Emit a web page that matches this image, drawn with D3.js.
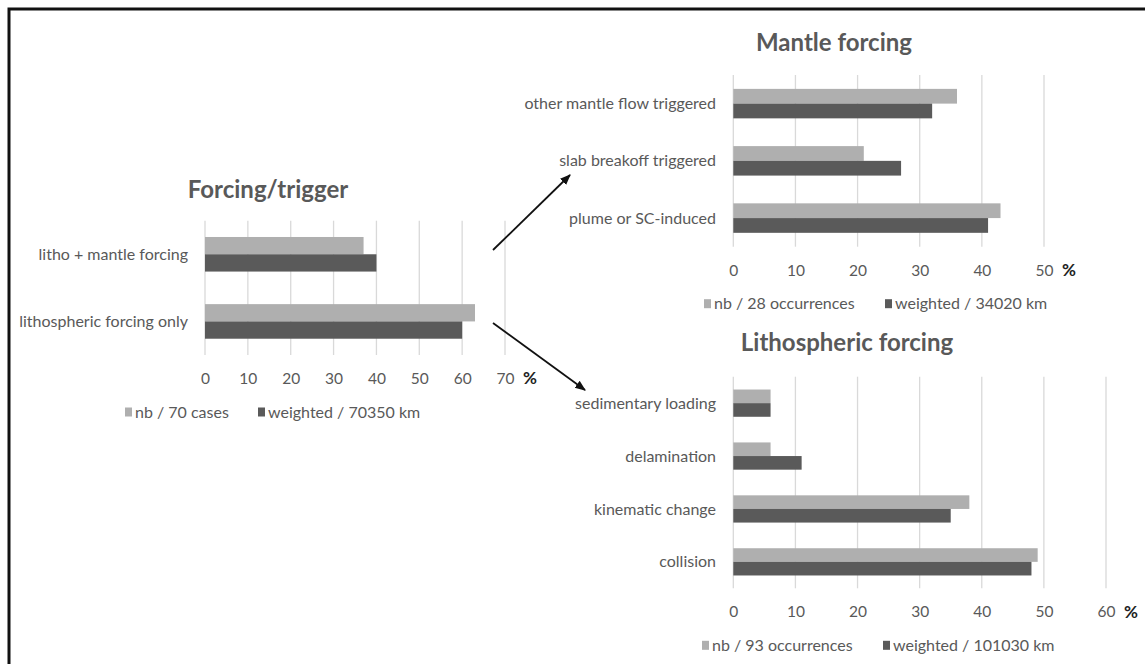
<!DOCTYPE html>
<html>
<head>
<meta charset="utf-8">
<script src="https://cdn.jsdelivr.net/npm/d3@7"></script>
<style>
  body { margin: 0; background: #fff; }
  svg text { font-family: Lato, "Open Sans", sans-serif; }
</style>
</head>
<body>
<div id="chart"></div>
<script>
// data (percent)
const forcingCats = ['litho + mantle forcing', 'lithospheric forcing only']
const forcingNb = [37, 63]
const forcingWeighted = [40, 60]
const forcingTicks = [0, 10, 20, 30, 40, 50, 60, 70]
const forcingLegend = ['nb / 70 cases', 'weighted / 70350 km']

const mantleCats = ['other mantle flow triggered', 'slab breakoff triggered', 'plume or SC-induced']
const mantleNb = [36, 21, 43]
const mantleWeighted = [32, 27, 41]
const mantleTicks = [0, 10, 20, 30, 40, 50]
const mantleLegend = ['nb / 28 occurrences', 'weighted / 34020 km']

const lithoCats = ['sedimentary loading', 'delamination', 'kinematic change', 'collision']
const lithoNb = [6, 6, 38, 49]
const lithoWeighted = [6, 11, 35, 48]
const lithoTicks = [0, 10, 20, 30, 40, 50, 60]
const lithoLegend = ['nb / 93 occurrences', 'weighted / 101030 km']

const series = ['nb', 'weighted']
const colors = { nb: '#afafaf', weighted: '#5a5a5a' }

const width = 1145, height = 664

const svg = d3.select('#chart')
    .append('svg')
    .attr('width', width)
    .attr('height', height)

svg.append('defs').append('marker')
    .attr('id', 'arrow')
    .attr('viewBox', '0 0 10 10')
    .attr('refX', 9).attr('refY', 5)
    .attr('markerWidth', 6).attr('markerHeight', 6)
    .attr('markerUnits', 'strokeWidth')
    .attr('orient', 'auto')
    .append('path')
    .attr('d', 'M0,1 L10,5 L0,9 z')
    .attr('fill', '#111')

// frame (only top and left edges are in the picture)
svg.append('path')
    .attr('d', `M9,${height} L9,9 L${width},9`)
    .attr('fill', 'none')
    .attr('stroke', '#111')
    .attr('stroke-width', 3)

function panel(opt){
    const g = svg.append('g')

    const x = d3.scaleLinear()
        .domain([0, d3.max(opt.ticks)])
        .range([opt.x0, opt.x1])

    const y = d3.scaleBand()
        .domain(opt.cats)
        .range([opt.top, opt.bottom])

    const inset = y.bandwidth() * (1 - 0.515) / 2
    const y1 = d3.scaleBand()
        .domain(series)
        .range([inset, y.bandwidth() - inset])

    const rows = opt.cats.map((c, i) => ({ cat: c, nb: opt.nb[i], weighted: opt.weighted[i] }))

    // gridlines
    g.append('g')
        .selectAll('line')
        .data(opt.ticks)
        .join('line')
        .attr('x1', d => x(d)).attr('x2', d => x(d))
        .attr('y1', opt.top).attr('y2', opt.bottom)
        .attr('stroke', '#d9d9d9')
        .attr('stroke-width', 1.3)

    // bars
    g.append('g')
        .selectAll('g')
        .data(rows)
        .join('g')
        .attr('transform', d => `translate(0,${y(d.cat)})`)
        .selectAll('rect')
        .data(d => series.map(s => ({ key: s, value: d[s] })))
        .join('rect')
        .attr('x', x(0))
        .attr('y', d => y1(d.key))
        .attr('width', d => x(d.value) - x(0))
        .attr('height', y1.bandwidth())
        .attr('fill', d => colors[d.key])

    // category labels
    g.append('g')
        .selectAll('text')
        .data(opt.cats)
        .join('text')
        .attr('x', opt.labelX)
        .attr('y', d => y(d) + y.bandwidth() / 2)
        .attr('dy', '0.35em')
        .attr('text-anchor', 'end')
        .attr('font-size', 16)
        .attr('fill', '#595959')
        .text(d => d)

    // value axis
    const axis = g.append('g')
        .attr('transform', `translate(0,${opt.bottom + 23.5})`)
        .call(d3.axisBottom(x).tickValues(opt.ticks).tickSize(0).tickPadding(0))
    axis.select('.domain').remove()
    axis.selectAll('text')
        .attr('dy', '0.35em')
        .attr('font-size', 15.5)
        .attr('font-family', 'Lato, sans-serif')
        .attr('fill', '#595959')

    g.append('text')
        .attr('x', opt.x1 + 25)
        .attr('y', opt.bottom + 23.5)
        .attr('dy', '0.35em')
        .attr('text-anchor', 'middle')
        .attr('font-size', 17)
        .attr('font-weight', 'bold')
        .attr('fill', '#222')
        .text('%')

    // title
    g.append('text')
        .attr('x', opt.titleX)
        .attr('y', opt.titleY)
        .attr('dy', '0.35em')
        .attr('text-anchor', 'middle')
        .attr('font-size', 24)
        .attr('font-weight', 'bold')
        .attr('fill', '#595959')
        .text(opt.title)

    // legend
    const lg = g.append('g')
        .selectAll('g')
        .data(series)
        .join('g')
        .attr('transform', (d, i) => `translate(${opt.legendX[i]},${opt.bottom + 57})`)
    lg.append('rect')
        .attr('x', 0).attr('y', -4.5)
        .attr('width', 7).attr('height', 9)
        .attr('fill', d => colors[d])
    lg.append('text')
        .attr('x', 10)
        .attr('dy', '0.35em')
        .attr('font-size', 16)
        .attr('fill', '#595959')
        .text((d, i) => opt.legend[i])
}

panel({
    title: 'Forcing/trigger', titleX: 268, titleY: 190,
    cats: forcingCats, nb: forcingNb, weighted: forcingWeighted,
    ticks: forcingTicks, legend: forcingLegend,
    x0: 205, x1: 505, top: 220.7, bottom: 355, labelX: 188,
    legendX: [125, 258]
})

panel({
    title: 'Mantle forcing', titleX: 834, titleY: 43,
    cats: mantleCats, nb: mantleNb, weighted: mantleWeighted,
    ticks: mantleTicks, legend: mantleLegend,
    x0: 733.3, x1: 1044, top: 75, bottom: 246.7, labelX: 716,
    legendX: [704, 885]
})

panel({
    title: 'Lithospheric forcing', titleX: 847, titleY: 343,
    cats: lithoCats, nb: lithoNb, weighted: lithoWeighted,
    ticks: lithoTicks, legend: lithoLegend,
    x0: 733.3, x1: 1106, top: 376.7, bottom: 588.3, labelX: 716,
    legendX: [702, 883]
})

// arrows from the left chart to the two detail charts
const arrows = [
    [[493, 250], [570, 175]],
    [[493, 323], [585, 390]]
]
svg.append('g')
    .selectAll('line')
    .data(arrows)
    .join('line')
    .attr('x1', d => d[0][0]).attr('y1', d => d[0][1])
    .attr('x2', d => d[1][0]).attr('y2', d => d[1][1])
    .attr('stroke', '#111')
    .attr('stroke-width', 1.8)
    .attr('marker-end', 'url(#arrow)')
</script>
</body>
</html>
